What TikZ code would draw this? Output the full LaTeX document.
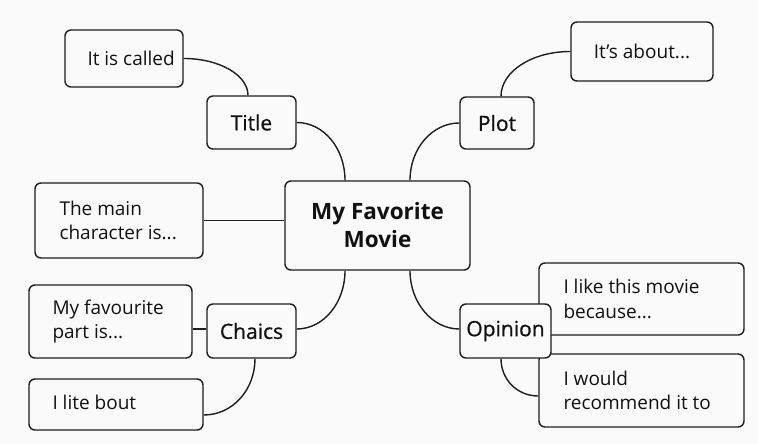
\documentclass[tikz,border=0pt]{standalone}
\usepackage{fontspec}
\setmainfont{Open Sans}
\newfontfamily\hubfnt{Open Sans}[FakeBold=0.8]
\definecolor{bgc}{HTML}{FAFAFA}
\definecolor{linec}{HTML}{1E1E1E}
\definecolor{txtc}{HTML}{111111}
\pgfdeclarelayer{bglayer}
\pgfdeclarelayer{edgelayer}
\pgfsetlayers{bglayer,edgelayer,main}
\tikzset{
  box/.style={draw=linec, line width=1.4pt, rounded corners=6pt, fill=bgc, inner sep=0pt},
  txt/.style={text=txtc, font=\fontsize{19}{24.5}\selectfont, align=left, inner sep=0pt, anchor=west},
  hub/.style={box, text=txtc, font=\hubfnt\fontsize{21}{24}\selectfont},
  conn/.style={draw=linec, line width=1.4pt},
}
\begin{document}
\begin{tikzpicture}[x=1pt, y=-1pt]
\begin{pgfonlayer}{bglayer}
\fill[bgc] (0,0) rectangle (758,444);
\end{pgfonlayer}
\useasboundingbox (0,0) rectangle (758,444);

% central node
\node[box, text=txtc, font=\bfseries\fontsize{22.5}{28}\selectfont, align=center,
      minimum width=185pt, minimum height=89pt] (main) at (377.5,225.5) {My Favorite\\Movie};

% hubs
\node[hub, minimum width=89pt, minimum height=53pt] (title) at (251.5,122.5) {Title};
\node[hub, minimum width=74pt, minimum height=52pt] (plot) at (497,123) {Plot};
\node[hub, minimum width=89pt, minimum height=54pt] (chaics) at (251.5,331) {Chaics};

% leaves
\node[box, minimum width=118pt, minimum height=57pt] (called) at (124,58.5) {};
\node[txt] (calledT) at ([xshift=23pt]called.west) {It is called};

\node[box, text=txtc, font=\fontsize{19}{24.5}\selectfont, minimum width=142pt, minimum height=59pt] (about) at (642,51.5) {It’s about...};

\node[box, minimum width=168pt, minimum height=75pt] (mainchar) at (119,220.5) {};
\node[txt] (mainT) at ([xshift=25pt]mainchar.west) {The main\\character is...};

\node[box, minimum width=163pt, minimum height=73pt] (fav) at (110.5,321.5) {};
\node[txt] (favT) at ([xshift=24pt]fav.west) {My favourite\\part is...};

\node[box, minimum width=174pt, minimum height=51pt] (lite) at (116,404.5) {};
\node[txt] (liteT) at ([xshift=24pt,yshift=2pt]lite.west) {I lite bout};

\node[box, minimum width=205pt, minimum height=72pt] (like) at (641.5,299) {};
\node[txt] (likeT) at ([xshift=25pt]like.west) {I like this movie\\because...};

\node[box, minimum width=205pt, minimum height=73pt] (would) at (641.5,390.5) {};
\node[txt] (wouldT) at ([xshift=25pt]would.west) {I would\\recommend it to};

\node[hub, minimum width=91pt, minimum height=54pt] (opinion) at (505.5,331) {Opinion};

% connectors
\begin{pgfonlayer}{edgelayer}
\draw[conn] (called.east) .. controls +(36,0) and +(0,-20) .. ([xshift=-3.5pt]title.north);
\draw[conn] (title.east) .. controls +(27,0) and +(0,-32) .. ([xshift=-32.5pt]main.north);
\draw[conn] ([xshift=32.5pt]main.north) .. controls +(0,-32) and +(-27,0) .. (plot.west);
\draw[conn] ([xshift=4pt]plot.north) .. controls +(0,-25) and +(-38,0) .. (about.west);
\draw[conn] (mainchar.east) -- ([yshift=5pt]main.west);
\draw[conn] ([xshift=-32.5pt]main.south) .. controls +(0,32) and +(27,0) .. ([yshift=2pt]chaics.east);
\draw[conn] ([yshift=2pt]chaics.west) -- ([yshift=-7.5pt]fav.east);
\draw[conn] ([xshift=3.5pt]chaics.south) .. controls +(0,31) and +(29,0) .. ([yshift=-10.5pt]lite.east);
\draw[conn] ([xshift=32.5pt]main.south) .. controls +(0,32) and +(-27,0) .. ([yshift=2pt]opinion.west);
\draw[conn] ([xshift=-4.5pt]opinion.south) .. controls +(0,21) and +(-21,0) .. ([yshift=-5.5pt]would.west);
\end{pgfonlayer}
\end{tikzpicture}
\end{document}
